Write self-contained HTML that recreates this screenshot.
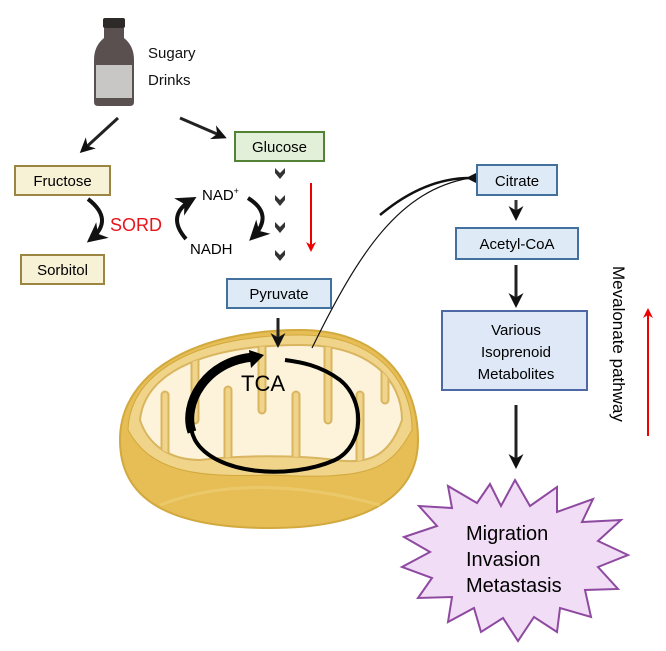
<!DOCTYPE html>
<html><head><meta charset="utf-8"><style>
html,body{margin:0;padding:0;background:#fff;}
svg{display:block;font-family:"Liberation Sans",sans-serif;}
</style></head><body>
<svg width="666" height="651" viewBox="0 0 666 651" xmlns="http://www.w3.org/2000/svg">
<defs>
<marker id="ah" viewBox="0 0 10 10" refX="8" refY="5" markerWidth="5" markerHeight="5" orient="auto"><path d="M0,0 L10,5 L0,10 L3,5z" fill="#111"/></marker>
<marker id="ahs" viewBox="0 0 10 10" refX="8" refY="5" markerWidth="8" markerHeight="8" orient="auto"><path d="M0,0 L10,5 L0,10 L3,5z" fill="#111"/></marker>
<marker id="ahr" viewBox="0 0 10 10" refX="8" refY="5" markerWidth="5" markerHeight="5" orient="auto"><path d="M0,0 L10,5 L0,10 L3,5z" fill="#e00"/></marker>
<clipPath id="inner"><path d="M140,420 C145,370 210,345 300,345 C370,345 402,380 402,420 C390,455 370,465 335,460 C300,455 240,455 200,460 C170,460 148,445 140,420z"/></clipPath>
</defs>
<!-- bottle -->
<rect x="103" y="18" width="22" height="10" rx="2" fill="#2e2a2a"/>
<path d="M104,28 h20 v10 q10,8 10,22 v42 q0,4 -4,4 h-32 q-4,0 -4,-4 v-42 q0,-14 10,-22z" fill="#5a5050"/>
<rect x="96" y="65" width="36" height="33" fill="#c9c6c6"/>
<text x="148" y="58" font-size="15" fill="#111">Sugary</text>
<text x="148" y="85" font-size="15" fill="#111">Drinks</text>
<line x1="118" y1="118" x2="82" y2="151" stroke="#222" stroke-width="3" marker-end="url(#ah)"/>
<line x1="180" y1="118" x2="224" y2="137" stroke="#222" stroke-width="3" marker-end="url(#ah)"/>
<!-- boxes -->
<rect x="235" y="132" width="89" height="29" fill="#e2f0d9" stroke="#548235" stroke-width="2"/>
<text x="279.5" y="152" font-size="15" text-anchor="middle">Glucose</text>
<rect x="15" y="166" width="95" height="29" fill="#f7f1d6" stroke="#9c8442" stroke-width="2"/>
<text x="62.5" y="186" font-size="15" text-anchor="middle">Fructose</text>
<rect x="21" y="255" width="83" height="29" fill="#f7f1d6" stroke="#9c8442" stroke-width="2"/>
<text x="62.5" y="275" font-size="15" text-anchor="middle">Sorbitol</text>
<text x="110" y="231" font-size="18" fill="#e8141c">SORD</text>
<path d="M88,199 Q115,220 90,240" fill="none" stroke="#111" stroke-width="4" marker-end="url(#ah)"/>
<text x="202" y="200" font-size="15">NAD<tspan font-size="9" dy="-6">+</tspan></text>
<text x="190" y="254" font-size="15">NADH</text>
<path d="M186,239 Q165,215 193,199" fill="none" stroke="#111" stroke-width="4" marker-end="url(#ah)"/>
<path d="M248,198 Q275,215 252,238" fill="none" stroke="#111" stroke-width="4" marker-end="url(#ah)"/>
<g fill="#333">
<path d="M275,168 l5,5 l5,-5 v5 l-5,6 l-5,-6z"/>
<path d="M275,195 l5,5 l5,-5 v5 l-5,6 l-5,-6z"/>
<path d="M275,222 l5,5 l5,-5 v5 l-5,6 l-5,-6z"/>
<path d="M275,250 l5,5 l5,-5 v5 l-5,6 l-5,-6z"/>
</g>
<line x1="311" y1="183" x2="311" y2="250" stroke="#e00" stroke-width="2" marker-end="url(#ahr)"/>
<rect x="227" y="279" width="104" height="29" fill="#deebf7" stroke="#41719c" stroke-width="2"/>
<text x="279" y="299" font-size="15" text-anchor="middle">Pyruvate</text>
<!-- mitochondrion -->
<path d="M120,440 C120,370 200,330 300,330 C380,330 418,380 418,440 C418,500 360,528 270,528 C170,528 120,500 120,440z" fill="#e6be55" stroke="#d2a93e" stroke-width="2"/>
<path d="M128,430 C130,370 200,335 300,335 C375,335 412,380 412,430 C390,470 370,480 270,475 C190,478 150,470 128,430z" fill="#f0d48a" stroke="#d2a93e"/>
<path d="M140,420 C145,370 210,345 300,345 C370,345 402,380 402,420 C390,455 370,465 335,460 C300,455 240,455 200,460 C170,460 148,445 140,420z" fill="#fdf3da" stroke="#d9b560" stroke-width="2"/>
<g clip-path="url(#inner)" stroke-linecap="round" fill="none">
<g stroke="#d9b560" stroke-width="9">
<line x1="165" y1="470" x2="165" y2="395"/><line x1="195" y1="330" x2="195" y2="420"/>
<line x1="228" y1="470" x2="228" y2="390"/><line x1="262" y1="330" x2="262" y2="410"/>
<line x1="296" y1="470" x2="296" y2="395"/><line x1="328" y1="330" x2="328" y2="420"/>
<line x1="360" y1="470" x2="360" y2="395"/><line x1="385" y1="330" x2="385" y2="400"/>
</g>
<g stroke="#f0d48a" stroke-width="5">
<line x1="165" y1="470" x2="165" y2="395"/><line x1="195" y1="330" x2="195" y2="420"/>
<line x1="228" y1="470" x2="228" y2="390"/><line x1="262" y1="330" x2="262" y2="410"/>
<line x1="296" y1="470" x2="296" y2="395"/><line x1="328" y1="330" x2="328" y2="420"/>
<line x1="360" y1="470" x2="360" y2="395"/><line x1="385" y1="330" x2="385" y2="400"/>
</g>
</g>
<path d="M160,505 Q250,470 380,505" fill="none" stroke="#eed07a" stroke-width="3" opacity="0.6"/>
<line x1="278" y1="318" x2="278" y2="345" stroke="#222" stroke-width="3" marker-end="url(#ah)"/>
<!-- TCA -->
<path d="M250,358 C200,365 180,410 195,440 C215,475 290,480 335,460 C365,445 365,400 340,380 C320,365 300,362 285,360" fill="none" stroke="#000" stroke-width="4"/>
<path d="M255,357 C205,360 182,405 192,432" fill="none" stroke="#000" stroke-width="9"/>
<path d="M249,350 L264,355 L251,368 z" fill="#000"/>
<text x="241" y="391" font-size="22">TCA</text>
<path d="M312,348 C360,250 400,190 470,178" fill="none" stroke="#111" stroke-width="1.2"/>
<path d="M470,178 C440,178 410,190 380,215" fill="none" stroke="#111" stroke-width="2.5" marker-start="url(#ahs)"/>
<!-- right column -->
<rect x="477" y="165" width="80" height="30" fill="#deebf7" stroke="#41719c" stroke-width="2"/>
<text x="517" y="186" font-size="15" text-anchor="middle">Citrate</text>
<rect x="456" y="228" width="122" height="31" fill="#deebf7" stroke="#41719c" stroke-width="2"/>
<text x="517" y="249" font-size="15" text-anchor="middle">Acetyl-CoA</text>
<rect x="442" y="311" width="145" height="79" fill="#dfe8f7" stroke="#4e68a6" stroke-width="2"/>
<text x="516" y="335" font-size="15" text-anchor="middle">Various</text>
<text x="516" y="357" font-size="15" text-anchor="middle">Isoprenoid</text>
<text x="516" y="379" font-size="15" text-anchor="middle">Metabolites</text>
<line x1="516" y1="200" x2="516" y2="218" stroke="#333" stroke-width="3" marker-end="url(#ah)"/>
<line x1="516" y1="265" x2="516" y2="305" stroke="#222" stroke-width="3" marker-end="url(#ah)"/>
<line x1="516" y1="405" x2="516" y2="466" stroke="#222" stroke-width="3" marker-end="url(#ah)"/>
<polygon points="515,480 530,506 557,487 557,512 593,499 582,522 621,520 598,541 628,555 598,567 618,589 585,590 591,617 560,608 557,632 534,617 518,641 503,618 481,632 474,608 448,622 452,597 418,598 432,578 402,567 430,552 404,537 437,526 419,506 452,508 448,486 477,503 490,484 501,506" fill="#f1ddf5" stroke="#8e4aa0" stroke-width="2"/>
<text x="466" y="540" font-size="20">Migration</text>
<text x="466" y="566" font-size="20">Invasion</text>
<text x="466" y="592" font-size="20">Metastasis</text>
<text transform="translate(613,266) rotate(90)" font-size="17">Mevalonate pathway</text>
<line x1="648" y1="436" x2="648" y2="310" stroke="#e00" stroke-width="2" marker-end="url(#ahr)"/>
</svg>
</body></html>
